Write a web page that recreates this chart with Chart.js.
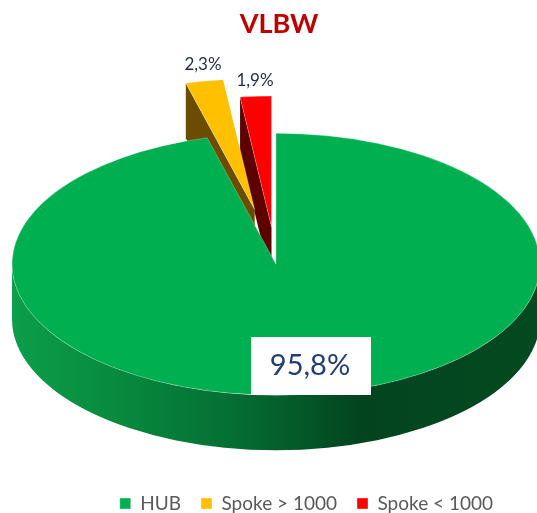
<!DOCTYPE html>
<html>
<head>
<meta charset="utf-8">
<style>
  html, body { margin: 0; padding: 0; background: #fff; }
  canvas { display: block; }
</style>
<script src="https://cdn.jsdelivr.net/npm/chart.js@4"></script>
</head>
<body>
<canvas id="vlbwChart" width="537" height="513"></canvas>
<script>
const categories = ['HUB', 'Spoke > 1000', 'Spoke < 1000'];
const values = [95.8, 2.3, 1.9];
const sliceColors = ['#00b050', '#ffc000', '#ff0000'];
const wallColors = [null, '#6b4c00', '#5c0000'];
const explode = [0, 112, 75];

const TILT = 0.496;
const DEPTH = 55 / TILT;

const pct = (v) => v.toFixed(1).replace('.', ',') + '%';

// flattens the pie and draws the sides underneath it
const tiltPlugin = {
  id: 'tilt',
  afterLayout(chart) {
    chart.titleBlock.left += 3;
    chart.titleBlock.right += 3;
    chart.legend.top += 10;
    chart.legend.bottom += 10;
  },
  afterDatasetsUpdate(chart) {
    // pull the small slices out, the offset option can't go this far
    chart.getDatasetMeta(0).data.forEach((arc, i) => {
      const mid = (arc.startAngle + arc.endAngle) / 2;
      arc.x += Math.cos(mid) * explode[i];
      arc.y += Math.sin(mid) * explode[i];
    });
  },
  beforeDatasetsDraw(chart) {
    const ctx = chart.ctx;
    const arcs = chart.getDatasetMeta(0).data;
    const cx = arcs[0].x;
    const cy = arcs[0].y;
    const r = arcs[0].outerRadius;

    ctx.save();
    ctx.translate(0, cy);
    ctx.scale(1, TILT);
    ctx.translate(0, -cy);

    // walls of the pulled out slices
    [2, 1].forEach((i) => {
      const arc = arcs[i];
      const ox = arc.x + Math.cos(arc.startAngle) * r;
      const oy = arc.y + Math.sin(arc.startAngle) * r;
      ctx.fillStyle = wallColors[i];
      ctx.beginPath();
      ctx.moveTo(arc.x, arc.y);
      ctx.lineTo(ox, oy);
      ctx.lineTo(ox, oy + DEPTH);
      ctx.lineTo(arc.x, arc.y + DEPTH);
      ctx.closePath();
      ctx.fill();
    });

    // front rim of the big slice
    const grad = ctx.createLinearGradient(cx - r, 0, cx + r, 0);
    grad.addColorStop(0, '#0c9e4a');
    grad.addColorStop(0.2, '#078a3e');
    grad.addColorStop(0.42, '#056e33');
    grad.addColorStop(0.66, '#03441f');
    grad.addColorStop(1, '#034a20');
    ctx.fillStyle = grad;
    ctx.beginPath();
    ctx.arc(cx, cy, r, 0, Math.PI);
    ctx.arc(cx, cy + DEPTH, r, Math.PI, 0, true);
    ctx.closePath();
    ctx.fill();
  },
  afterDatasetsDraw(chart) {
    const ctx = chart.ctx;
    ctx.restore();

    ctx.fillStyle = '#ffffff';
    ctx.fillRect(251, 337, 120, 58);
    ctx.textAlign = 'center';
    ctx.textBaseline = 'middle';
    ctx.fillStyle = '#1f3f74';
    ctx.font = '29px Lato';
    ctx.fillText(pct(values[0]), 310, 366);
    ctx.fillStyle = '#1f2a44';
    ctx.font = '17px Lato';
    ctx.fillText(pct(values[1]), 203, 65);
    ctx.fillText(pct(values[2]), 255, 81);
  },
};

new Chart(document.getElementById('vlbwChart').getContext('2d'), {
  type: 'pie',
  data: {
    labels: categories,
    datasets: [
      {
        data: values,
        backgroundColor: sliceColors,
        borderColor: 'rgba(255,255,255,0.45)',
        borderWidth: 0.8,
        clip: false,
      },
    ],
  },
  options: {
    responsive: false,
    animation: false,
    events: [],
    radius: 264,
    layout: { padding: { left: 39, right: 24, top: 8, bottom: 0 } },
    plugins: {
      tooltip: { enabled: false },
      title: {
        display: true,
        text: 'VLBW',
        color: '#c00000',
        font: { family: 'Lato', size: 27, weight: 'bold' },
        padding: { top: 0, bottom: 24 },
      },
      legend: {
        position: 'bottom',
        align: 'end',
        labels: {
          color: '#595959',
          font: { family: 'Lato', size: 19 },
          boxWidth: 11,
          boxHeight: 11,
          padding: 20,
        },
      },
    },
  },
  plugins: [tiltPlugin],
});
</script>
</body>
</html>
